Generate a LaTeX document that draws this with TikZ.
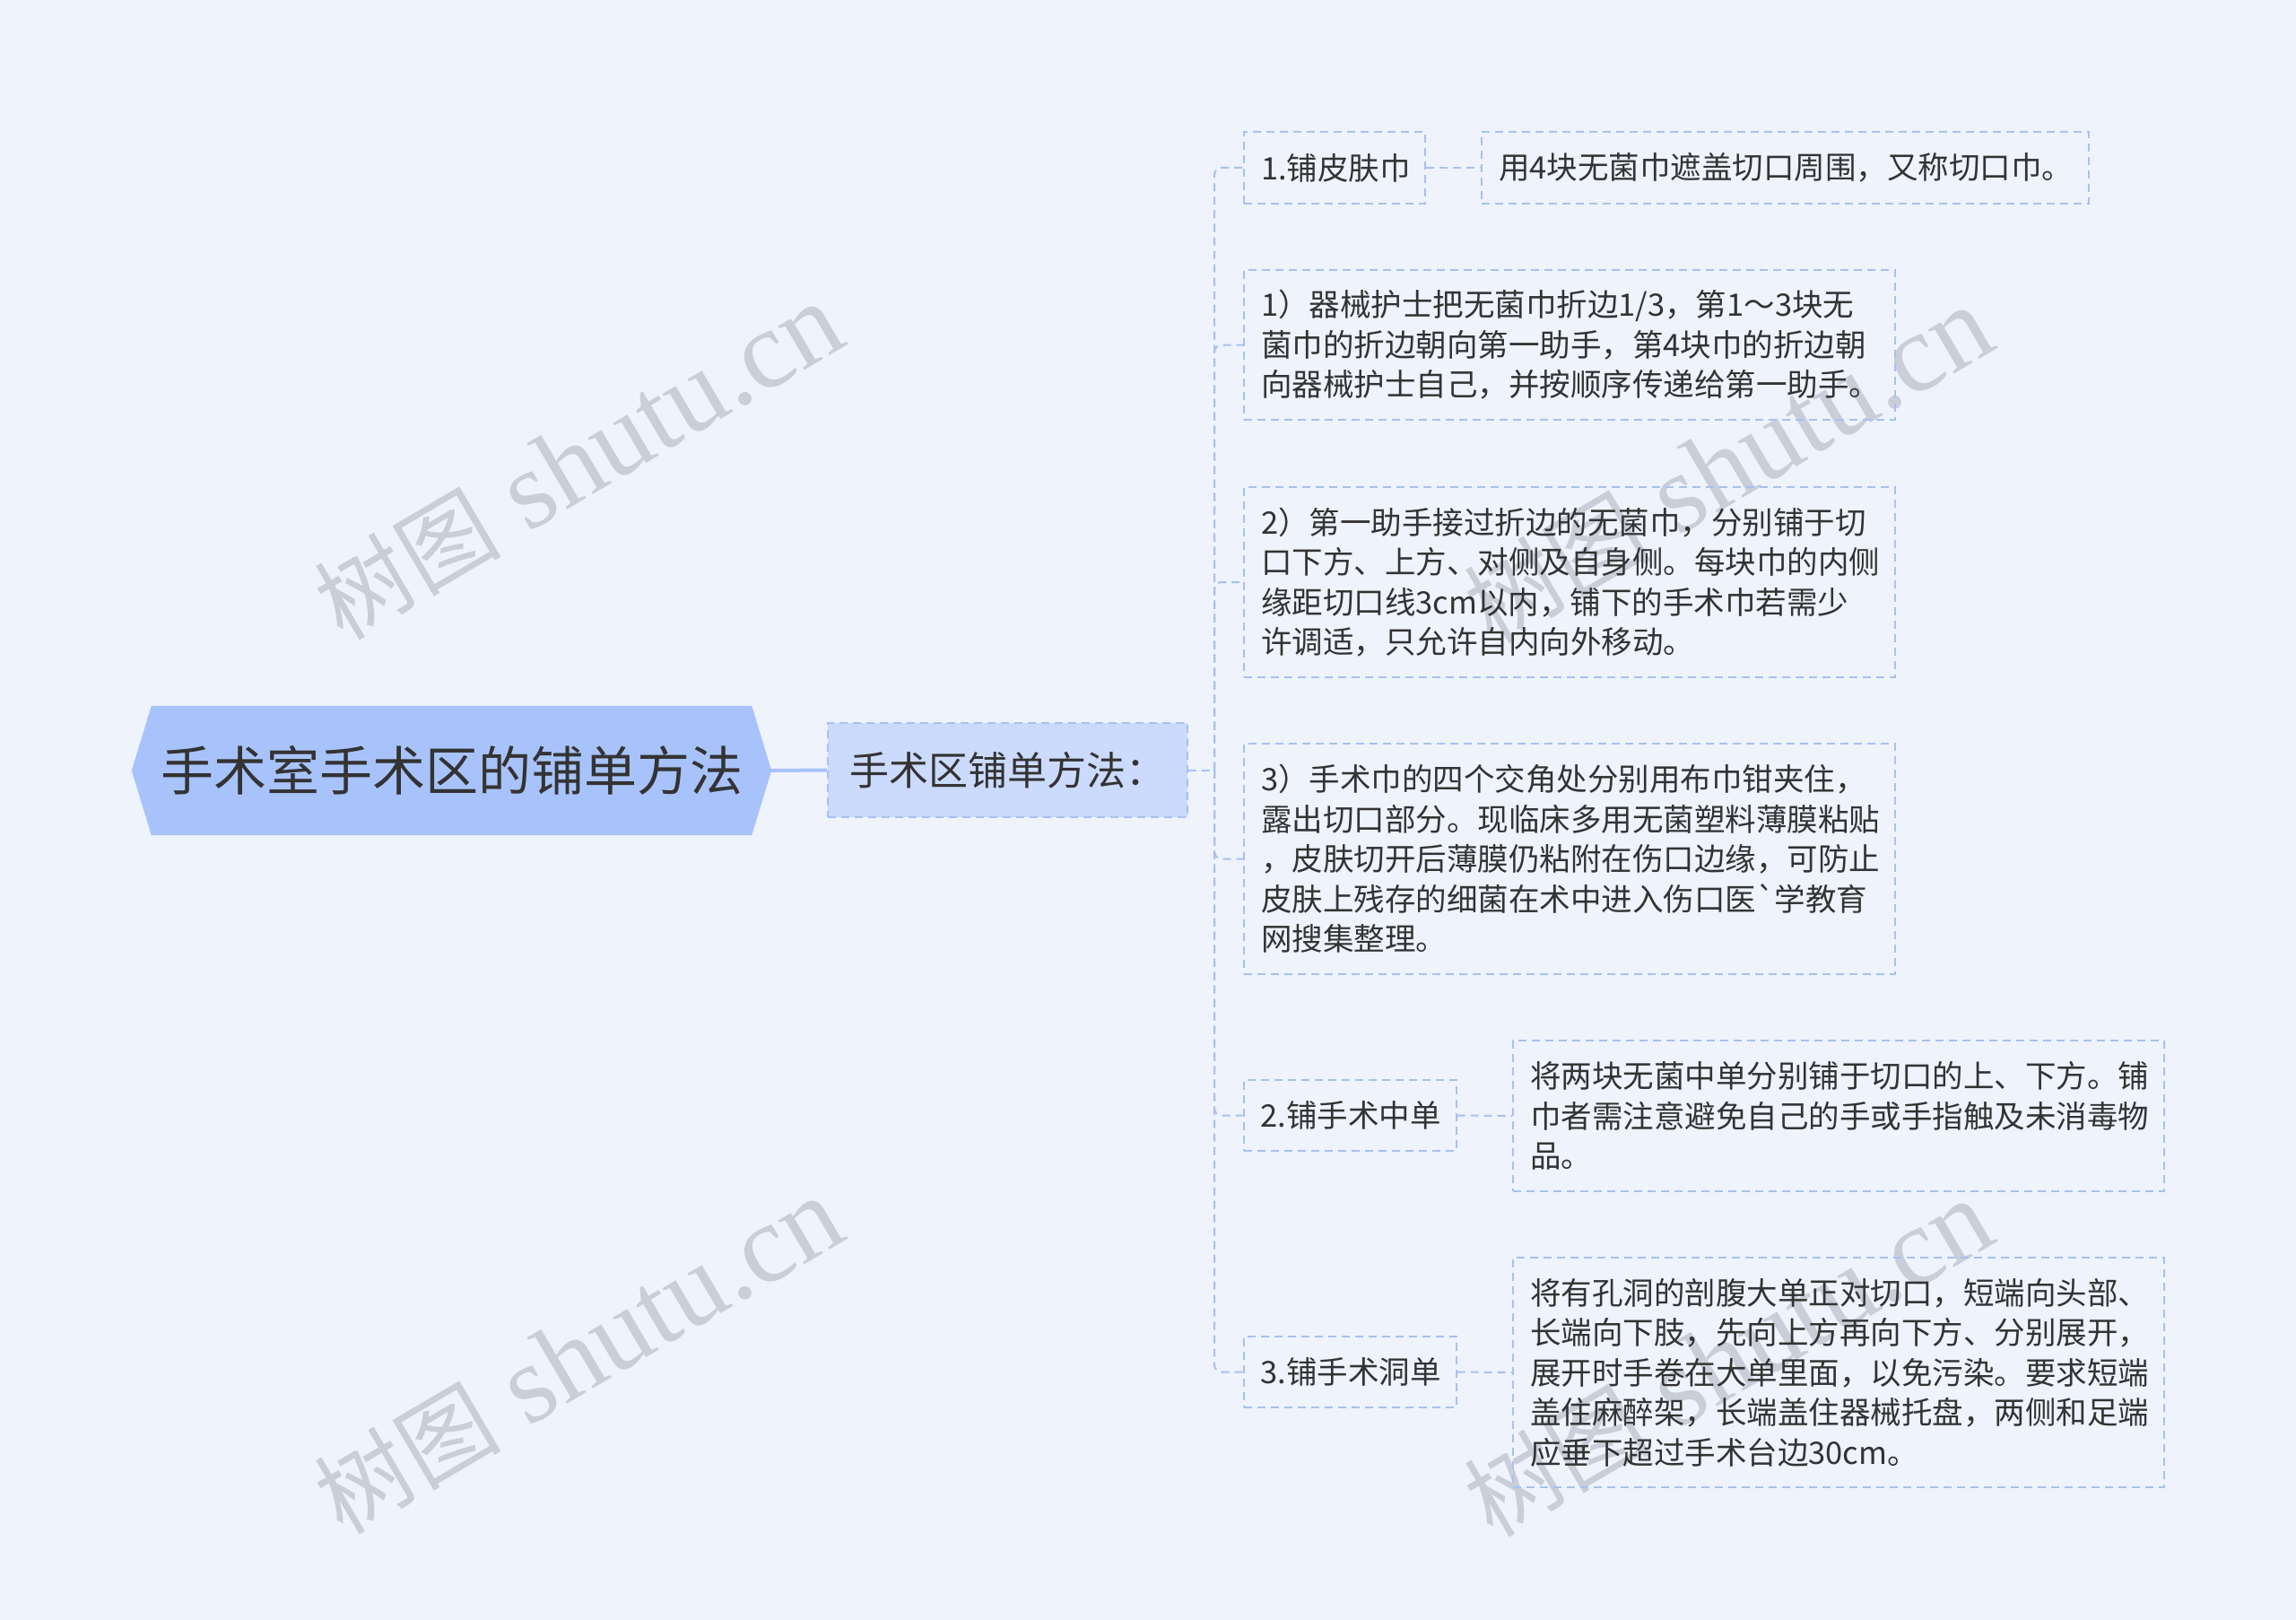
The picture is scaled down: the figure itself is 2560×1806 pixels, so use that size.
\documentclass[tikz,border=0pt]{standalone}
\usepackage{fontspec}
\setmainfont{Noto Sans CJK SC}[Ligatures=TeXOff]
\newfontfamily\wmlat{Liberation Serif}
\newfontfamily\wmcjk{Noto Sans CJK SC}
\usetikzlibrary{backgrounds}
\definecolor{bgc}{HTML}{EEF3FC}
\definecolor{rootc}{HTML}{A8C3FB}
\definecolor{subc}{HTML}{CBDAFD}
\definecolor{linec}{HTML}{A8C0F2}
\definecolor{txtc}{HTML}{333333}
\definecolor{wmc}{HTML}{C9CED8}
\tikzset{
  x=1pt, y=-1pt,
  conn/.style={draw=linec, line width=2pt, dash pattern=on 9pt off 6pt},
  boxbase/.style={draw=linec, line width=2pt, dash pattern=on 9pt off 6pt,
     inner xsep=19pt, inner ysep=0pt, text=txtc, align=left,
     font=\fontsize{34.5}{44.5}\selectfont},
  leafbox/.style n args={2}{boxbase, minimum width=#1, minimum height=#2, text width=#1-38pt},
  rootnode/.style={inner sep=0pt, minimum width=713pt, minimum height=144pt, text=txtc,
     font=\fontsize{59}{64}\selectfont},
  subnode/.style={boxbase, fill=subc, minimum width=401pt, minimum height=105pt,
     inner xsep=24pt, font=\fontsize{44}{50}\selectfont},
  wm/.style={text=wmc, rotate=30.5, inner sep=0pt}
}
\newcommand{\wmtext}{{\wmcjk\fontsize{104}{104}\selectfont 树图}{\wmlat\fontsize{124}{124}\selectfont\ shutu.cn}}
\begin{document}
\begin{tikzpicture}
\begin{scope}[on background layer]
\fill[bgc] (0,0) rectangle (2560,1806);
\end{scope}
\useasboundingbox (0,0) rectangle (2560,1806);

% watermarks
\node[wm] (wm1) at (645,515) {\wmtext};
\node[wm] (wm2) at (1927,519) {\wmtext};
\node[wm] (wm3) at (645,1512) {\wmtext};
\node[wm] (wm4) at (1927,1515) {\wmtext};

% root
\node[rootnode] (root) at (503.5,859) {手术室手术区的铺单方法};
\begin{scope}[on background layer]
\fill[rootc] (root.west) -- ([xshift=22pt]root.north west) -- ([xshift=-22pt]root.north east)
  -- (root.east) -- ([xshift=-22pt]root.south east) -- ([xshift=22pt]root.south west) -- cycle;
\end{scope}

% sub
\node[subnode] (sub) at (1123.5,858.5) {手术区铺单方法：};

% children
\node[leafbox={202pt}{80pt}] (n1) at (1488,187) {1.铺皮肤巾};
\node[leafbox={677pt}{80pt}] (d1) at (1990.5,187) {用4块无菌巾遮盖切口周围，又称切口巾。};
\node[leafbox={726pt}{167pt}] (s1) at (1750,384.5) {1）器械护士把无菌巾折边1/3，第1～3块无\\菌巾的折边朝向第一助手，第4块巾的折边朝\\向器械护士自己，并按顺序传递给第一助手。};
\node[leafbox={726pt}{212pt}] (s2) at (1750,649) {2）第一助手接过折边的无菌巾，分别铺于切\\口下方、上方、对侧及自身侧。每块巾的内侧\\缘距切口线3cm以内，铺下的手术巾若需少\\许调适，只允许自内向外移动。};
\node[leafbox={726pt}{257pt}] (s3) at (1750,957.5) {3）手术巾的四个交角处分别用布巾钳夹住，\\露出切口部分。现临床多用无菌塑料薄膜粘贴\\，皮肤切开后薄膜仍粘附在伤口边缘，可防止\\皮肤上残存的细菌在术中进入伤口医`学教育\\网搜集整理。};
\node[leafbox={237pt}{79pt}] (n2) at (1505,1243.5) {2.铺手术中单};
\node[leafbox={726pt}{168pt}] (d2) at (2050,1244) {将两块无菌中单分别铺于切口的上、下方。铺\\巾者需注意避免自己的手或手指触及未消毒物\\品。};
\node[leafbox={237pt}{79pt}] (n3) at (1505,1529.5) {3.铺手术洞单};
\node[leafbox={726pt}{256pt}] (d3) at (2050,1530) {将有孔洞的剖腹大单正对切口，短端向头部、\\长端向下肢，先向上方再向下方、分别展开，\\展开时手卷在大单里面，以免污染。要求短端\\盖住麻醉架，长端盖住器械托盘，两侧和足端\\应垂下超过手术台边30cm。};

% connectors
\draw[draw=rootc, line width=4pt] (root.east) -- (sub.west);
\coordinate (tr) at (1354,858.5);
\draw[conn] (sub.east) -- (tr);
\foreach \c in {n1,s1,s2} {
  \draw[conn, rounded corners=8pt] (tr) |- (\c.west);
}
\foreach \c in {s3,n2,n3} {
  \draw[conn, rounded corners=8pt] (tr) |- (\c.west);
}
\draw[conn] (n1.east) -- (d1.west);
\draw[conn] (n2.east) -- (d2.west);
\draw[conn] (n3.east) -- (d3.west);
\end{tikzpicture}
\end{document}
